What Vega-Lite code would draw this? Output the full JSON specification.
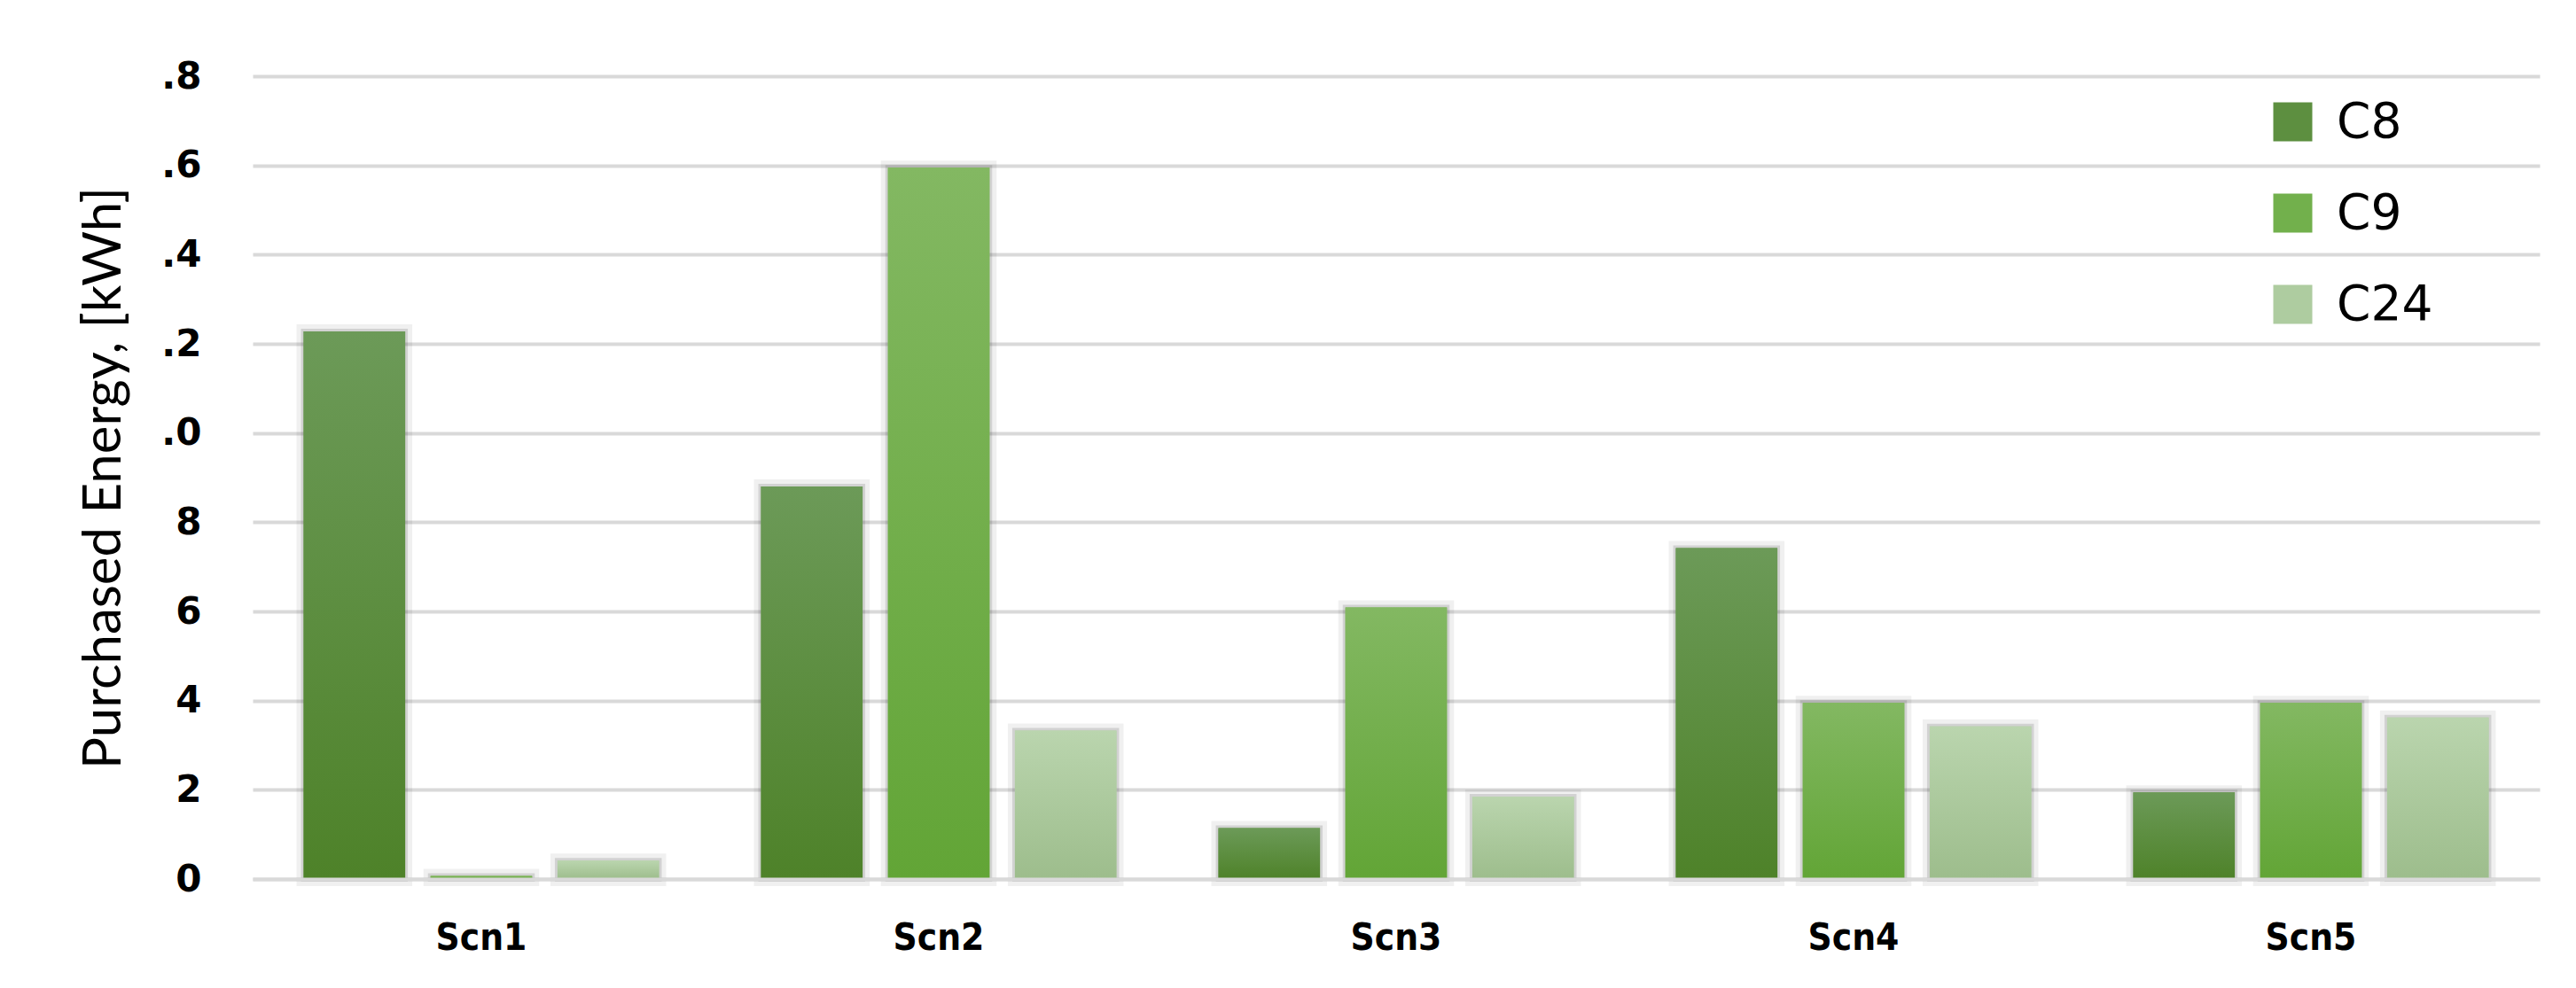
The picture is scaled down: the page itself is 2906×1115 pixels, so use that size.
{
  "$schema": "https://vega.github.io/schema/vega-lite/v6.json",
  "autosize": {"type": "none"},
  "width": 2580,
  "height": 906,
  "padding": {"left": 285, "top": 86, "right": 41, "bottom": 123},
  "background": "white",
  "config": {"view": {"stroke": null}},
  "data": {"values": [
    {"scenario": "Scn1", "series": "C8", "energy": 1.228},
    {"scenario": "Scn1", "series": "C9", "energy": 0.007},
    {"scenario": "Scn1", "series": "C24", "energy": 0.041},
    {"scenario": "Scn2", "series": "C8", "energy": 0.880},
    {"scenario": "Scn2", "series": "C9", "energy": 1.595},
    {"scenario": "Scn2", "series": "C24", "energy": 0.333},
    {"scenario": "Scn3", "series": "C8", "energy": 0.114},
    {"scenario": "Scn3", "series": "C9", "energy": 0.609},
    {"scenario": "Scn3", "series": "C24", "energy": 0.185},
    {"scenario": "Scn4", "series": "C8", "energy": 0.742},
    {"scenario": "Scn4", "series": "C9", "energy": 0.395},
    {"scenario": "Scn4", "series": "C24", "energy": 0.342},
    {"scenario": "Scn5", "series": "C8", "energy": 0.194},
    {"scenario": "Scn5", "series": "C9", "energy": 0.395},
    {"scenario": "Scn5", "series": "C24", "energy": 0.362}
  ]},
  "encoding": {
    "x": {
      "field": "scenario", "type": "nominal",
      "scale": {"paddingInner": 0.223, "paddingOuter": 0.1115},
      "axis": {
        "title": null, "labelAngle": 0, "ticks": false,
        "domainColor": "#d9d9d9", "domainWidth": 4, "zindex": 1,
        "labelFont": "Liberation Sans Narrow, DejaVu Sans Condensed, Liberation Sans",
        "labelFontWeight": "bold", "labelFontSize": 42, "labelColor": "#000000",
        "labelPadding": 46
      }
    },
    "xOffset": {
      "field": "series", "type": "nominal", "sort": ["C8", "C9", "C24"],
      "scale": {"paddingInner": 0.2, "paddingOuter": 0}
    },
    "y": {
      "field": "energy", "type": "quantitative",
      "scale": {"domain": [0, 1.8], "nice": false},
      "axis": {
        "title": "Purchased Energy, [kWh]",
        "titleFont": "Lato", "titleFontSize": 60, "titleFontWeight": "normal",
        "titleColor": "#000000", "titleX": -168, "titleBaseline": "middle",
        "values": [0, 0.2, 0.4, 0.6, 0.8, 1.0, 1.2, 1.4, 1.6, 1.8],
        "labelExpr": "datum.value < 0.99 ? format(datum.value * 10, '.0f') : '.' + format((datum.value - 1) * 10, '.0f')",
        "labelFont": "DejaVu Sans", "labelFontWeight": "bold", "labelFontSize": 42,
        "labelColor": "#000000", "labelPadding": 58,
        "domain": false, "ticks": false,
        "grid": true, "gridColor": "#d9d9d9", "gridWidth": 4
      }
    }
  },
  "layer": [
    {
      "mark": {"type": "bar", "fill": null, "stroke": "#000000", "strokeOpacity": 0.06, "strokeWidth": 16, "y2Offset": -8}
    },
    {
      "mark": {"type": "bar", "fill": null, "stroke": "#000000", "strokeOpacity": 0.12, "strokeWidth": 6, "y2Offset": -3}
    },
    {
      "mark": {"type": "bar"},
      "encoding": {
        "color": {
          "field": "series", "type": "nominal", "sort": ["C8", "C9", "C24"],
          "scale": {"domain": ["C8", "C9", "C24"], "range": ["#5d8f40", "#72b04c", "#aecca0"]},
          "legend": {
            "title": null, "orient": "none", "legendX": 2274, "legendY": 24,
            "direction": "vertical", "padding": 0,
            "symbolType": "square", "symbolSize": 1936, "symbolStrokeWidth": 0,
            "labelFont": "DejaVu Sans", "labelFontSize": 55, "labelColor": "#000000",
            "labelOffset": 22, "rowPadding": 47, "labelLimit": 400
          }
        }
      }
    },
    {
      "transform": [{"filter": "datum.series === 'C8'"}],
      "mark": {"type": "bar", "fill": {"gradient": "linear", "x1": 0, "y1": 0, "x2": 0, "y2": 1,
        "stops": [{"offset": 0, "color": "#6c9a58"}, {"offset": 1, "color": "#4e8229"}]}}
    },
    {
      "transform": [{"filter": "datum.series === 'C9'"}],
      "mark": {"type": "bar", "fill": {"gradient": "linear", "x1": 0, "y1": 0, "x2": 0, "y2": 1,
        "stops": [{"offset": 0, "color": "#83b862"}, {"offset": 1, "color": "#62a536"}]}}
    },
    {
      "transform": [{"filter": "datum.series === 'C24'"}],
      "mark": {"type": "bar", "fill": {"gradient": "linear", "x1": 0, "y1": 0, "x2": 0, "y2": 1,
        "stops": [{"offset": 0, "color": "#bad5ae"}, {"offset": 1, "color": "#9dbd8c"}]}}
    }
  ]
}
